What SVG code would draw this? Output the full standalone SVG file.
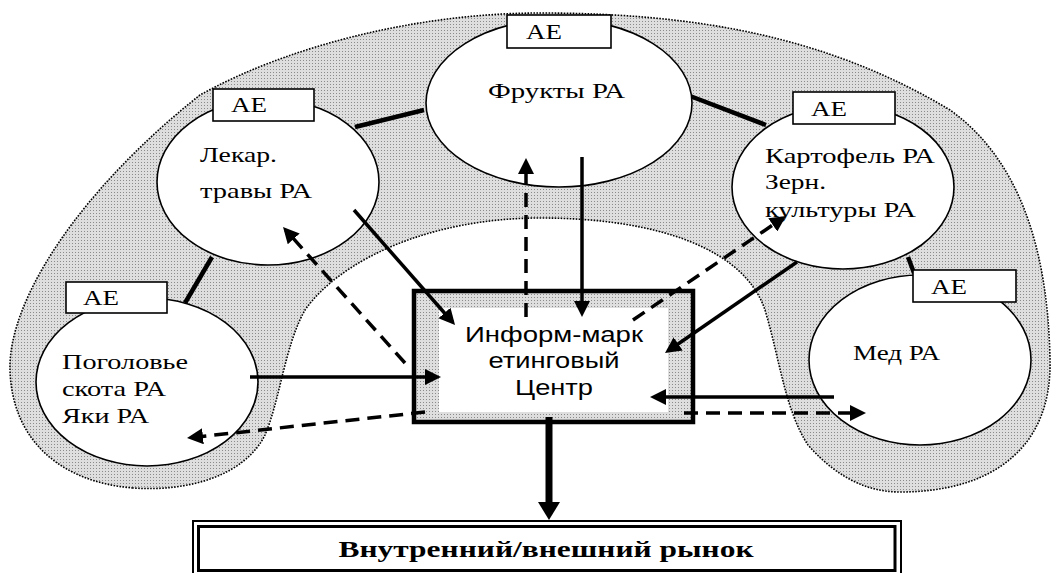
<svg xmlns="http://www.w3.org/2000/svg" width="1056" height="573" viewBox="0 0 1056 573">
<style>
.ell{fill:#fff;stroke:#000;stroke-width:1.6}
.ae{fill:#fff;stroke:#000;stroke-width:1.6}
.t{font-family:"Liberation Serif","Times New Roman",serif;font-size:21px;fill:#000}
.tae{font-family:"Liberation Serif","Times New Roman",serif;font-size:20px;fill:#000}
.tc{font-family:"Liberation Sans",Arial,sans-serif;font-size:22px;fill:#000;text-anchor:middle}
.tb{font-family:"Liberation Serif","Times New Roman",serif;font-size:24px;font-weight:bold;fill:#000;text-anchor:middle}
.dot{fill:none;stroke:#000;stroke-width:1.6;stroke-dasharray:1.6 1.4}
.link{stroke:#000;stroke-width:4.5;fill:none}
.sol{stroke:#000;stroke-width:3.5;fill:none;marker-end:url(#ah)}
.dash{stroke:#000;stroke-width:3.5;fill:none;stroke-dasharray:14 8;marker-end:url(#ah)}
</style>
<defs>
<pattern id="stip" width="3" height="3" patternUnits="userSpaceOnUse">
<rect width="3" height="3" fill="#dedede"/>
<rect width="1" height="1" fill="#8a8a8a"/>
</pattern>
<marker id="ah" markerUnits="userSpaceOnUse" markerWidth="16" markerHeight="16" viewBox="0 0 16 16" refX="12" refY="8" orient="auto">
<path d="M0,0 L16,8 L0,16 Z" fill="#000"/>
</marker>
<marker id="ahbig" markerUnits="userSpaceOnUse" markerWidth="22" markerHeight="22" viewBox="0 0 22 22" refX="11" refY="11" orient="auto">
<path d="M0,0 L18,11 L0,22 Z" fill="#000"/>
</marker>
</defs>
<rect width="1056" height="573" fill="#fff"/>

<g id="region">
<path fill="url(#stip)" stroke="none" d="M133,488 C60,482 12,440 10,370 C8,300 80,190 200,95 C290,45 420,13 540,13 C700,13 830,38 950,110 C1020,160 1048,250 1050,360 C1052,450 990,492 900,492 C860,492 830,470 808,445 C785,410 780,360 765,310 C745,250 660,218 540,218 C430,218 340,260 305,310 C285,345 280,400 265,435 C245,475 190,492 133,488 Z"/>
<path class="dot" d="M133,488 C60,482 12,440 10,370 C8,300 80,190 200,95 C290,45 420,13 540,13 C700,13 830,38 950,110 C1020,160 1048,250 1050,360 C1052,450 990,492 900,492 C860,492 830,470 808,445 C785,410 780,360 765,310 C745,250 660,218 540,218 C430,218 340,260 305,310 C285,345 280,400 265,435 C245,475 190,492 133,488 Z"/>
</g>

<g id="links">
<line class="link" x1="355" y1="127" x2="424" y2="110"/>
<line class="link" x1="690" y1="96" x2="766" y2="125"/>
<line class="link" x1="212" y1="257" x2="185" y2="303"/>
<line class="link" x1="908" y1="257" x2="914" y2="273"/>
</g>

<g id="node-frukty">
<ellipse class="ell" cx="559" cy="103" rx="133" ry="84"/>
<rect class="ae" x="507" y="15" width="104" height="33"/>
<text class="tae" x="526" y="39" textLength="36" lengthAdjust="spacingAndGlyphs">АЕ</text>
<text class="t" x="488" y="98" textLength="137" lengthAdjust="spacingAndGlyphs">Фрукты РА</text>
</g>

<g id="node-lekar">
<ellipse class="ell" cx="268" cy="182" rx="111" ry="83"/>
<rect class="ae" x="213" y="89" width="101" height="32"/>
<text class="tae" x="231" y="112" textLength="36" lengthAdjust="spacingAndGlyphs">АЕ</text>
<text class="t" x="200" y="162" textLength="77" lengthAdjust="spacingAndGlyphs">Лекар.</text>
<text class="t" x="200" y="198" textLength="112" lengthAdjust="spacingAndGlyphs">травы РА</text>
</g>

<g id="node-kartofel">
<ellipse class="ell" cx="843" cy="187" rx="111" ry="82"/>
<rect class="ae" x="793" y="92" width="102" height="32"/>
<text class="tae" x="811" y="116" textLength="36" lengthAdjust="spacingAndGlyphs">АЕ</text>
<text class="t" x="765" y="163" textLength="170" lengthAdjust="spacingAndGlyphs">Картофель РА</text>
<text class="t" x="765" y="189" textLength="61" lengthAdjust="spacingAndGlyphs">Зерн.</text>
<text class="t" x="765" y="217" textLength="151" lengthAdjust="spacingAndGlyphs">культуры РА</text>
</g>

<g id="node-pogolovie">
<ellipse class="ell" cx="147" cy="382" rx="111" ry="84"/>
<rect class="ae" x="66" y="282" width="101" height="31"/>
<text class="tae" x="83" y="305" textLength="36" lengthAdjust="spacingAndGlyphs">АЕ</text>
<text class="t" x="62" y="369" textLength="126" lengthAdjust="spacingAndGlyphs">Поголовье</text>
<text class="t" x="62" y="396" textLength="104" lengthAdjust="spacingAndGlyphs">скота РА</text>
<text class="t" x="62" y="423" textLength="87" lengthAdjust="spacingAndGlyphs">Яки РА</text>
</g>

<g id="node-med">
<ellipse class="ell" cx="920" cy="360" rx="111" ry="85"/>
<rect class="ae" x="913" y="270" width="103" height="32"/>
<text class="tae" x="931" y="294" textLength="36" lengthAdjust="spacingAndGlyphs">АЕ</text>
<text class="t" x="853" y="360" textLength="87" lengthAdjust="spacingAndGlyphs">Мед РА</text>
</g>

<g id="node-center">
<rect x="414" y="291" width="279" height="131" fill="url(#stip)" stroke="#000" stroke-width="4.5"/>
<rect x="439" y="308" width="229" height="104" fill="#fff"/>
<text class="tc" x="554" y="342" textLength="178" lengthAdjust="spacingAndGlyphs">Информ-марк</text>
<text class="tc" x="554" y="368" textLength="131" lengthAdjust="spacingAndGlyphs">етинговый</text>
<text class="tc" x="554" y="395" textLength="78" lengthAdjust="spacingAndGlyphs">Центр</text>
</g>

<g id="node-market">
<rect x="193" y="521" width="708" height="58" fill="#fff" stroke="#000" stroke-width="2"/>
<rect x="198.5" y="526.5" width="696.5" height="44" fill="none" stroke="#000" stroke-width="3"/>
<text class="tb" x="546" y="557" textLength="415" lengthAdjust="spacingAndGlyphs">Внутренний/внешний рынок</text>
</g>

<g id="connectors">
<line class="sol" x1="354" y1="210" x2="452.4" y2="322"/>
<line class="dash" x1="405" y1="363" x2="285.7" y2="230"/>
<line class="dash" x1="526" y1="317" x2="526" y2="162"/>
<line class="sol" x1="582" y1="157" x2="582" y2="313"/>
<line class="dash" x1="633" y1="320" x2="782.7" y2="218.2"/>
<line class="sol" x1="797" y1="262" x2="668.3" y2="350.7"/>
<line class="sol" x1="834" y1="397" x2="654" y2="397"/>
<line class="dash" x1="684" y1="413" x2="862" y2="413"/>
<line class="sol" x1="250" y1="377" x2="437" y2="377"/>
<line class="dash" x1="425" y1="412" x2="191" y2="437.6"/>
<line x1="549" y1="417" x2="549" y2="513" stroke="#000" stroke-width="7" marker-end="url(#ahbig)"/>
</g>
</svg>
